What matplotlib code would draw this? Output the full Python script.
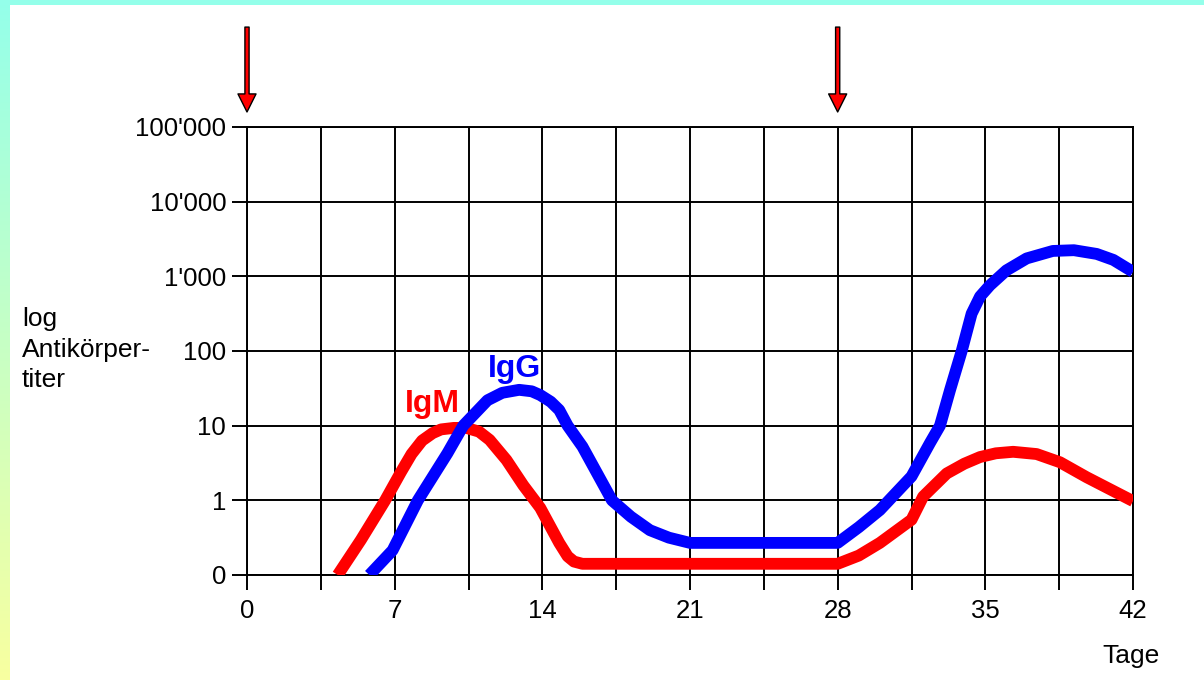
import numpy as np
import matplotlib
matplotlib.use("Agg")
import matplotlib.pyplot as plt

plt.rcParams['font.family'] = ['Liberation Sans', 'DejaVu Sans']

# Days of injection (arrows)
injection_days = [0, 28]

# IgM titre (log level: 0 -> "0", 1 -> "1", 2 -> "10", ...)
igm_days = [4.3, 5.4, 6.55, 7.3, 7.8, 8.3, 8.8, 9.2, 9.8, 10.4, 11.0, 11.5, 12.3, 13.1,
            13.9, 14.8, 15.2, 15.5, 15.9, 28.0, 29.0, 30.0, 31.5, 32.05, 33.17,
            34.0, 34.75, 35.5, 36.32, 37.43, 38.54, 39.8, 42.0]
igm_level = [0.0, 0.47, 1.0, 1.38, 1.62, 1.8, 1.9, 1.95, 1.97, 1.97, 1.92, 1.81, 1.54,
             1.2, 0.9, 0.43, 0.25, 0.18, 0.15, 0.15, 0.26, 0.43, 0.74, 1.05, 1.36,
             1.49, 1.58, 1.63, 1.65, 1.62, 1.51, 1.31, 0.99]

# IgG titre
igg_days = [5.8, 6.9, 8.1, 9.5, 10.25, 11.4, 12.1, 12.9, 13.5, 13.9, 14.4, 14.8,
            15.2, 15.9, 17.3, 18.2, 19.1, 20.0, 21.0, 28.0, 29.0, 30.0, 31.5,
            32.38, 32.85, 33.33, 33.88, 34.35, 34.75, 35.22, 36.0, 36.96, 38.2,
            39.2, 40.28, 41.07, 42.0]
igg_level = [0.0, 0.33, 1.0, 1.63, 2.0, 2.34, 2.44, 2.48, 2.46, 2.41, 2.32, 2.21,
             2.0, 1.72, 1.0, 0.78, 0.6, 0.5, 0.43, 0.43, 0.64, 0.87, 1.32,
             1.77, 2.0, 2.48, 3.0, 3.5, 3.73, 3.88, 4.08, 4.24, 4.34,
             4.35, 4.3, 4.22, 4.06]

x_ticks = [0, 7, 14, 21, 28, 35, 42]
y_labels = ["0", "1", "10", "100", "1'000", "10'000", "100'000"]

fig = plt.figure(figsize=(12.04, 6.8), dpi=100)
fig.patch.set_facecolor("white")

# coloured frame strips on the left and top edge
cyan = np.array([0x94, 0xFF, 0xEA]) / 255
yellow = np.array([0xF8, 0xFF, 0xA0]) / 255
t = np.linspace(0, 1, 256)[:, None]
grad = (cyan * (1 - t) + yellow * t)[:, None, :]
ax_left = fig.add_axes([0, 0, 10 / 1204, 1])
ax_left.imshow(grad, aspect="auto", extent=[0, 1, 0, 1])
ax_left.axis("off")
ax_top = fig.add_axes([0, 1 - 5 / 680, 1, 5 / 680])
ax_top.set_facecolor(cyan)
ax_top.set_xticks([])
ax_top.set_yticks([])
for s in ax_top.spines.values():
    s.set_visible(False)

ax = fig.add_axes([247 / 1204, 1 - 575 / 680, (1133 - 247) / 1204, (575 - 127) / 680])
ax.set_xlim(0, 42)
ax.set_ylim(0, 6)

# grid every half week
grid_x = np.arange(0, 42.01, 3.5)
ax.set_xticks(grid_x)
ax.set_xticklabels([str(int(v)) if v in x_ticks else "" for v in grid_x])
ax.set_yticks(range(len(y_labels)))
ax.set_yticklabels(y_labels)
ax.grid(True, color="black", linewidth=1.4)
ax.tick_params(direction="out", length=11, width=1.4, colors="black",
               labelsize=18.5, pad=4)
ax.tick_params(axis="x", pad=6)
for s in ax.spines.values():
    s.set_linewidth(1.4)
    s.set_color("black")

ax.plot(igm_days, igm_level, color="#ff0000", linewidth=8.5, solid_capstyle="butt",
        solid_joinstyle="round", zorder=3)
ax.plot(igg_days, igg_level, color="#0000ff", linewidth=8.5, solid_capstyle="butt",
        solid_joinstyle="round", zorder=4)

ax.text(8.77, 2.18, "IgM", color="#ff0000", fontsize=23, fontweight="bold",
        ha="center", va="baseline", zorder=5)
ax.text(12.66, 2.65, "IgG", color="#0000ff", fontsize=23, fontweight="bold",
        ha="center", va="baseline", zorder=5)

# injection arrows above the plot
for d in injection_days:
    ax.annotate("", xy=(d, 1.0335), xytext=(d, 1.223),
                xycoords=ax.get_xaxis_transform(), annotation_clip=False,
                arrowprops=dict(arrowstyle="simple,head_width=1.3,head_length=1.3,tail_width=0.3",
                                fc="#ff0000", ec="black", lw=1, mutation_scale=10,
                                shrinkA=0, shrinkB=0))

fig.text(22 / 1204, 1 - 307 / 680, "log\nAntikörper-\ntiter", fontsize=19,
         ha="left", va="top", linespacing=1.35)
fig.text(1131 / 1204, 1 - 663 / 680, "Tage", fontsize=19, ha="center", va="baseline")

fig.savefig("out.png", dpi=100, facecolor="white")
